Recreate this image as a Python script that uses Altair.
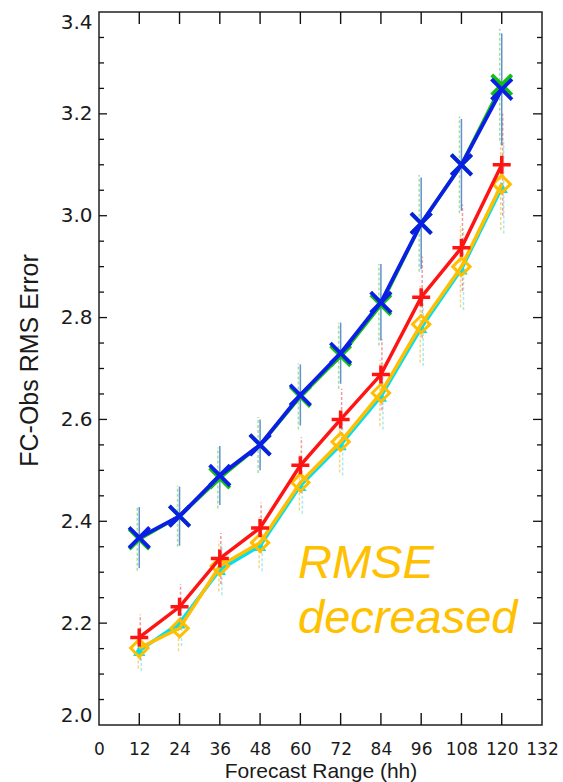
import altair as alt
import pandas as pd

# ---------------- data ----------------
forecast_hours = [12, 24, 36, 48, 60, 72, 84, 96, 108, 120]

rmse_green = [2.365, 2.41, 2.485, 2.55, 2.645, 2.725, 2.825, 2.985, 3.10, 3.257]
rmse_blue = [2.368, 2.41, 2.49, 2.55, 2.648, 2.73, 2.83, 2.985, 3.10, 3.248]
rmse_red = [2.172, 2.232, 2.327, 2.387, 2.51, 2.60, 2.688, 2.84, 2.937, 3.10]
rmse_cyan = [2.146, 2.20, 2.305, 2.352, 2.47, 2.55, 2.645, 2.78, 2.895, 3.055]
rmse_orange = [2.151, 2.19, 2.312, 2.358, 2.476, 2.556, 2.652, 2.787, 2.90, 3.062]

err_green = [0.062, 0.06, 0.06, 0.055, 0.065, 0.065, 0.08, 0.095, 0.095, 0.11]
err_blue = [0.06, 0.058, 0.058, 0.05, 0.06, 0.06, 0.075, 0.09, 0.09, 0.11]
err_red = [0.045, 0.045, 0.05, 0.05, 0.055, 0.06, 0.07, 0.08, 0.085, 0.10]
err_cyan = [0.04, 0.045, 0.05, 0.05, 0.055, 0.06, 0.065, 0.075, 0.08, 0.09]
err_orange = [0.04, 0.045, 0.05, 0.05, 0.055, 0.06, 0.065, 0.075, 0.08, 0.09]

x_tick_values = [0, 12, 24, 36, 48, 60, 72, 84, 96, 108, 120, 132]
y_tick_values = [2.0, 2.2, 2.4, 2.6, 2.8, 3.0, 3.2, 3.4]
y_minor_values = [2.05, 2.1, 2.15, 2.25, 2.3, 2.35, 2.45, 2.5, 2.55, 2.65, 2.7, 2.75,
                  2.85, 2.9, 2.95, 3.05, 3.1, 3.15, 3.25, 3.3, 3.35]

annot_text = ["RMSE", "decreased"]
annot_x = [59.3, 59.3]
annot_y = [2.289, 2.181]

X_MIN, X_MAX = 0, 132
Y_MIN, Y_MAX = 2.0, 3.4
PLOT_W, PLOT_H = 443, 713


def frame(vals, errs):
    return pd.DataFrame({
        "fh": forecast_hours,
        "val": vals,
        "lo": [v - e for v, e in zip(vals, errs)],
        "hi": [v + e for v, e in zip(vals, errs)],
    })


df_green = frame(rmse_green, err_green)
df_blue = frame(rmse_blue, err_blue)
df_red = frame(rmse_red, err_red)
df_cyan = frame(rmse_cyan, err_cyan)
df_orange = frame(rmse_orange, err_orange)
df_text = pd.DataFrame({"t": annot_text, "x": annot_x, "y": annot_y})

# tick-mark tables (edge value -> inward end value, in data units of the scales)
ypx = (Y_MAX - Y_MIN) / PLOT_H
xpx = (X_MAX - X_MIN) / PLOT_W
df_xt_bottom = pd.DataFrame({"v": x_tick_values[1:-1],
                             "a": [Y_MIN] * 10, "b": [Y_MIN + 12 * ypx] * 10})
df_xt_top = pd.DataFrame({"v": x_tick_values[1:-1],
                          "a": [Y_MAX] * 10, "b": [Y_MAX - 12 * ypx] * 10})
df_yt_left = pd.DataFrame({"v": y_tick_values[1:-1] + y_minor_values,
                           "a": [X_MIN] * 27,
                           "b": [X_MIN + 8 * xpx] * 6 + [X_MIN + 5 * xpx] * 21})
df_yt_right = pd.DataFrame({"v": y_tick_values[1:-1] + y_minor_values,
                            "a": [X_MAX] * 27,
                            "b": [X_MAX - 9 * xpx] * 6 + [X_MAX - 5 * xpx] * 21})

xs = alt.Scale(domain=[X_MIN, X_MAX], nice=False, zero=False)
ys = alt.Scale(domain=[Y_MIN, Y_MAX], nice=False, zero=False)

TICK = "#111111"
LABEL = "#1a1a1a"

ax_x_labels = alt.Axis(orient="bottom", values=x_tick_values, ticks=False, domain=False,
                       grid=False, labelFont="DejaVu Sans", labelFontSize=17,
                       labelColor=LABEL, labelBaseline="alphabetic", labelPadding=29,
                       labelFlush=False, labelOverlap=False,
                       title="Forecast Range (hh)", titleFont="Liberation Sans",
                       titleFontSize=21, titleFontWeight="normal", titleColor=LABEL,
                       titleBaseline="alphabetic", titleY=52)
ax_y_labels = alt.Axis(orient="left", values=y_tick_values, format=".1f", ticks=False,
                       domain=False, grid=False, labelFont="DejaVu Sans", labelFontSize=20,
                       labelColor=LABEL, labelPadding=7, labelFlush=True, labelOverlap=False,
                       title="FC-Obs RMS Error", titleFont="Liberation Sans",
                       titleFontSize=25, titleFontWeight="normal", titleColor=LABEL,
                       titleBaseline="alphabetic", titleAngle=270, titleX=-62, titleY=348)


def err_layer(df, color, dx, dash=None, opacity=0.8, width=1.5, xaxis=None, yaxis=None):
    kw = dict(color=color, strokeWidth=width, xOffset=dx, opacity=opacity)
    if dash:
        kw["strokeDash"] = dash
    return alt.Chart(df).mark_rule(**kw).encode(
        x=alt.X("fh:Q", scale=xs, axis=xaxis), y=alt.Y("lo:Q", scale=ys, axis=yaxis), y2="hi:Q")


def line_layer(df, color, width=3.5):
    return alt.Chart(df).mark_line(color=color, strokeWidth=width).encode(
        x=alt.X("fh:Q", scale=xs, axis=None), y=alt.Y("val:Q", scale=ys, axis=None))


def point_layer(df, color, shape, size, sw, filled=False):
    return alt.Chart(df).mark_point(shape=shape, size=size, strokeWidth=sw, filled=filled,
                                    color=color, opacity=1).encode(
        x=alt.X("fh:Q", scale=xs, axis=None), y=alt.Y("val:Q", scale=ys, axis=None))


def xtick_layer(df):
    return alt.Chart(df).mark_rule(color=TICK, strokeWidth=1.4, opacity=1).encode(
        x=alt.X("v:Q", scale=xs, axis=None),
        y=alt.Y("a:Q", scale=ys, axis=None), y2="b:Q")


def ytick_layer(df):
    return alt.Chart(df).mark_rule(color=TICK, strokeWidth=1.3, opacity=1).encode(
        x=alt.X("a:Q", scale=xs, axis=None), x2="b:Q",
        y=alt.Y("v:Q", scale=ys, axis=None))


XSHAPE = "M-1,-1L1,1M1,-1L-1,1"
PLUS = "M-1,0L1,0M0,-1L0,1"

GREEN = "#12c012"
BLUE = "#0a1ee6"
RED = "#ff1414"
CYAN = "#00e0f0"
ORANGE = "#ffbf00"

layers = [
    err_layer(df_green, "#7fd07f", -2, dash=[3, 2], opacity=0.7,
              xaxis=ax_x_labels, yaxis=ax_y_labels),
    err_layer(df_cyan, "#7fe3ee", 2, dash=[3, 2], opacity=0.7),
    err_layer(df_orange, "#f2c64a", -1, dash=[3, 2], opacity=0.7),
    err_layer(df_red, "#ec7b7b", 1, dash=[3, 2], opacity=0.75),
    err_layer(df_blue, "#4f86c6", 0, opacity=0.9),
    xtick_layer(df_xt_bottom),
    xtick_layer(df_xt_top),
    ytick_layer(df_yt_left),
    ytick_layer(df_yt_right),
    line_layer(df_cyan, CYAN),
    point_layer(df_cyan, CYAN, "triangle-up", 150, 1, filled=True),
    line_layer(df_orange, ORANGE),
    point_layer(df_orange, ORANGE, "diamond", 300, 3),
    line_layer(df_red, RED),
    point_layer(df_red, RED, PLUS, 324, 3.5),
    line_layer(df_green, GREEN),
    point_layer(df_green, GREEN, XSHAPE, 400, 4),
    line_layer(df_blue, BLUE, 3.8),
    point_layer(df_blue, BLUE, XSHAPE, 420, 3.8),
    alt.Chart(df_text).mark_text(align="left", baseline="alphabetic", font="Liberation Sans",
                                 fontSize=47, fontStyle="italic", color="#FFC000").encode(
        x=alt.X("x:Q", scale=xs, axis=None), y=alt.Y("y:Q", scale=ys, axis=None), text="t:N"),
]

chart = alt.layer(*layers).resolve_axis(x="independent", y="independent").properties(
    width=PLOT_W, height=PLOT_H,
    padding={"left": 99, "top": 12, "right": 21, "bottom": 57},
    autosize=alt.AutoSizeParams(type="none"),
    background="white",
).configure_view(stroke="#222222", strokeWidth=1.5)

chart.save("out.html", embed_options={"renderer": "svg", "actions": False})
